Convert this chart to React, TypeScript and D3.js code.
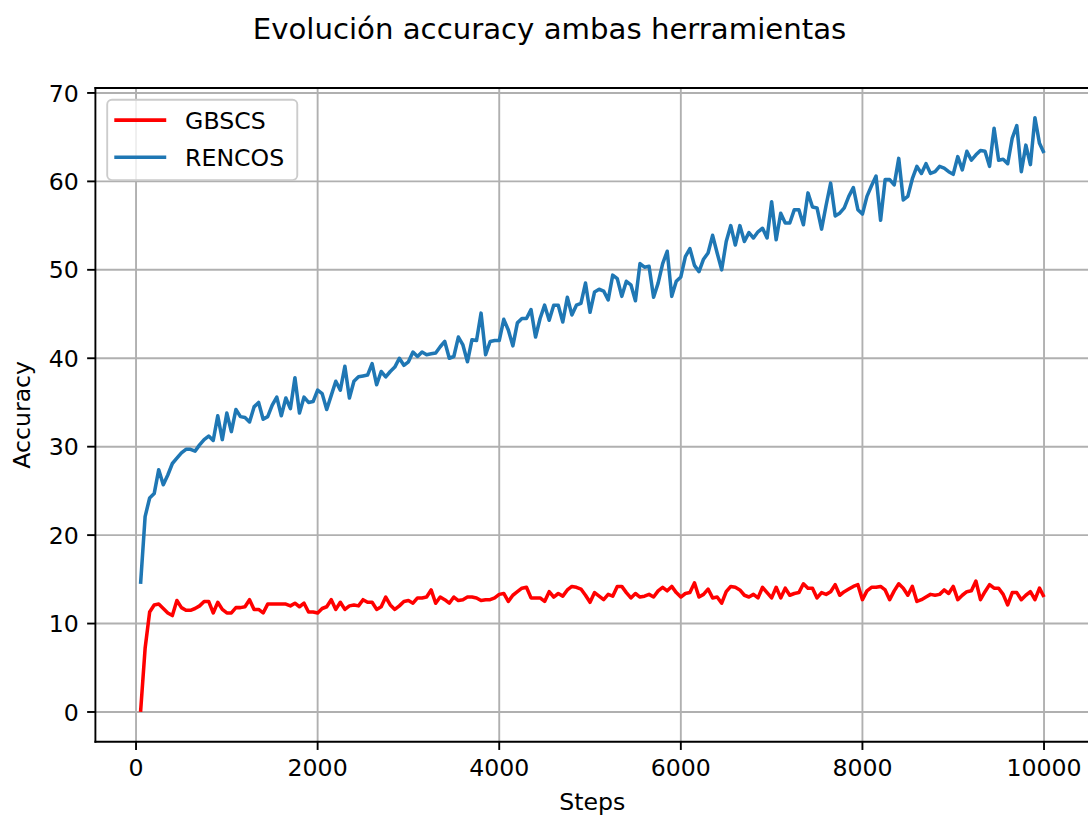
import React from "react";
import * as d3 from "d3";

// Training steps at which accuracy was logged
const steps: number[] = d3.range(50, 10050, 50);

const gbscs: number[] = [
  0, 7.2, 11.3, 12.1, 12.2, 11.7, 11.2, 10.9, 12.6, 11.8,
  11.5, 11.5, 11.7, 12.0, 12.5, 12.5, 11.2, 12.4, 11.6, 11.2,
  11.2, 11.8, 11.8, 11.9, 12.7, 11.6, 11.6, 11.2, 12.2, 12.2,
  12.2, 12.2, 12.2, 12.0, 12.3, 11.9, 12.3, 11.3, 11.3, 11.2,
  11.7, 11.9, 12.7, 11.6, 12.4, 11.6, 12.0, 12.1, 12.0, 12.7,
  12.4, 12.4, 11.6, 11.9, 13.0, 12.1, 11.6, 12.0, 12.5, 12.6,
  12.3, 12.9, 12.9, 13.0, 13.8, 12.3, 13.0, 12.7, 12.3, 13.0,
  12.6, 12.7, 13.0, 13.0, 12.9, 12.6, 12.7, 12.7, 12.9, 13.3,
  13.4, 12.5, 13.2, 13.6, 14.0, 14.1, 12.9, 12.9, 12.9, 12.5,
  13.6, 13.0, 13.4, 13.1, 13.8, 14.2, 14.1, 13.9, 13.2, 12.4,
  13.5, 13.1, 12.7, 13.3, 13.1, 14.2, 14.2, 13.5, 12.9, 13.4,
  13.0, 13.1, 13.3, 13.0, 13.7, 14.1, 13.7, 14.2, 13.5, 13.0,
  13.4, 13.5, 14.6, 13.0, 13.3, 13.9, 12.9, 13.0, 12.3, 13.6,
  14.2, 14.1, 13.8, 13.2, 13.0, 13.3, 12.9, 14.1, 13.5, 12.9,
  14.1, 12.9, 14.0, 13.2, 13.4, 13.5, 14.5, 14.0, 14.0, 12.9,
  13.5, 13.3, 13.6, 14.4, 13.2, 13.6, 13.9, 14.2, 14.4, 12.7,
  13.7, 14.1, 14.1, 14.2, 13.8, 12.7, 13.7, 14.5, 14.0, 13.2,
  14.2, 12.5, 12.7, 13.0, 13.3, 13.2, 13.3, 13.8, 13.4, 14.2,
  12.7, 13.2, 13.6, 13.7, 14.8, 12.7, 13.6, 14.4, 14.0, 14.0,
  13.3, 12.1, 13.5, 13.5, 12.7, 13.2, 13.6, 12.7, 14.0, 13.0,
];

const rencos: number[] = [
  14.5, 22.1, 24.2, 24.7, 27.4, 25.7, 26.8, 28.1, 28.7, 29.3,
  29.7, 29.7, 29.5, 30.2, 30.8, 31.2, 30.7, 33.5, 30.8, 33.8,
  31.7, 34.2, 33.4, 33.3, 32.8, 34.5, 35.0, 33.1, 33.4, 34.7,
  35.6, 33.5, 35.5, 34.3, 37.8, 33.8, 35.6, 35.0, 35.1, 36.4,
  36.0, 34.2, 35.8, 37.4, 36.4, 39.1, 35.5, 37.4, 37.9, 38.0,
  38.1, 39.4, 37.0, 38.5, 37.9, 38.5, 39.0, 40.0, 39.2, 39.6,
  40.7, 40.2, 40.7, 40.4, 40.5, 40.6, 41.3, 41.9, 40.0, 40.2,
  42.4, 41.5, 39.6, 42.1, 42.0, 45.1, 40.4, 41.9, 42.0, 42.0,
  44.4, 43.2, 41.4, 44.0, 44.5, 44.5, 45.5, 42.4, 44.5, 46.0,
  44.3, 46.0, 46.0, 44.1, 46.9, 44.9, 46.0, 46.2, 48.5, 45.2,
  47.5, 47.8, 47.6, 46.6, 49.4, 49.0, 47.0, 48.7, 48.3, 46.5,
  50.7, 50.3, 50.4, 46.9, 48.5, 50.7, 52.1, 47.0, 48.7, 49.2,
  51.5, 52.4, 50.5, 49.8, 51.2, 51.9, 53.9, 51.9, 50.0, 53.2,
  55.0, 52.8, 55.0, 53.2, 54.2, 53.6, 54.3, 54.7, 53.6, 57.7,
  53.4, 56.4, 55.3, 55.3, 56.8, 56.8, 55.1, 58.7, 57.1, 57.0,
  54.6, 57.3, 59.8, 56.1, 56.4, 57.0, 58.3, 59.3, 56.8, 56.3,
  58.3, 59.5, 60.6, 55.6, 60.2, 60.2, 59.6, 62.6, 57.9, 58.3,
  60.3, 61.7, 60.9, 62.0, 60.9, 61.1, 61.7, 61.5, 61.1, 60.8,
  62.8, 61.3, 63.4, 62.4, 63.0, 63.5, 63.4, 61.7, 66.0, 62.4,
  62.5, 62.0, 64.9, 66.3, 61.1, 64.1, 61.9, 67.2, 64.3, 63.2,
];

const seriesNames = ["GBSCS", "RENCOS"];
const seriesColors = ["#ff0000", "#1f77b4"];
const xTicks = [0, 2000, 4000, 6000, 8000, 10000];
const yTicks = [0, 10, 20, 30, 40, 50, 60, 70];
const title = "Evolución accuracy ambas herramientas";
const xLabel = "Steps";
const yLabel = "Accuracy";

const W = 1088;
const H = 817;
const S = 170 / 72; // points to pixels
const FONT = "'DejaVu Sans', sans-serif";
const fs = 10 * S;
const box = { left: 95.4, top: 88, right: 1089.2, bottom: 741.7 };

const padded = (lo: number, hi: number): [number, number] => {
  const m = (hi - lo) * 0.05;
  return [lo - m, hi + m];
};

export default function App() {
  const series = [gbscs, rencos];
  const allVals = series.flat();
  const x = d3
    .scaleLinear()
    .domain(padded(d3.min(steps)!, d3.max(steps)!))
    .range([box.left, box.right]);
  const y = d3
    .scaleLinear()
    .domain(padded(d3.min(allVals)!, d3.max(allVals)!))
    .range([box.bottom, box.top]);

  const line = d3
    .line<number>()
    .x((_, i) => x(steps[i]))
    .y((d) => y(d));

  const tickLen = 3.5 * S;
  const tickPad = 3.5 * S;
  const gridW = 0.8 * S;

  // legend geometry, in font-size units
  const lgX = box.left + 0.5 * fs;
  const lgY = box.top + 0.5 * fs;
  const lgW = 8.05 * fs;
  const lgH = 3.4 * fs;
  const handleX1 = lgX + 0.3 * fs;
  const handleX2 = lgX + 2.5 * fs;
  const textX = lgX + 3.3 * fs;

  return (
    <svg
      width={W}
      height={H}
      style={{ position: "absolute", left: 0, top: 0, background: "#fff" }}
      fontFamily={FONT}
    >
      <defs>
        <clipPath id="plot-area">
          <rect
            x={box.left}
            y={box.top}
            width={box.right - box.left}
            height={box.bottom - box.top}
          />
        </clipPath>
      </defs>
      <rect width={W} height={H} fill="#fff" />

      <text x={549.5} y={39} fontSize={29.2} textAnchor="middle" fill="#000">
        {title}
      </text>

      {/* grid */}
      <g stroke="#b0b0b0" strokeWidth={gridW} clipPath="url(#plot-area)">
        {xTicks.map((t) => (
          <line key={"gx" + t} x1={x(t)} x2={x(t)} y1={box.top} y2={box.bottom} />
        ))}
        {yTicks.map((t) => (
          <line key={"gy" + t} x1={box.left} x2={box.right} y1={y(t)} y2={y(t)} />
        ))}
      </g>

      {/* series */}
      <g clipPath="url(#plot-area)" fill="none" strokeWidth={1.5 * S} strokeLinejoin="round">
        {series.map((s, i) => (
          <path key={seriesNames[i]} d={line(s)!} stroke={seriesColors[i]} />
        ))}
      </g>

      {/* spines */}
      <g stroke="#000" strokeWidth={gridW} fill="none">
        <line x1={box.left} x2={box.left} y1={box.top} y2={box.bottom} strokeLinecap="square" />
        <line x1={box.left} x2={box.right} y1={box.bottom} y2={box.bottom} strokeLinecap="square" />
        <line x1={box.left} x2={box.right} y1={box.top} y2={box.top} strokeLinecap="square" />
        <line x1={box.right} x2={box.right} y1={box.top} y2={box.bottom} />
      </g>

      {/* x axis */}
      <g>
        {xTicks.map((t) => (
          <g key={"xt" + t}>
            <line
              x1={x(t)}
              x2={x(t)}
              y1={box.bottom}
              y2={box.bottom + tickLen}
              stroke="#000"
              strokeWidth={gridW}
            />
            <text
              x={x(t)}
              y={box.bottom + tickLen + tickPad + 0.76 * fs}
              fontSize={fs}
              textAnchor="middle"
              fill="#000"
            >
              {t}
            </text>
          </g>
        ))}
        <text
          x={(box.left + box.right) / 2}
          y={810}
          fontSize={fs}
          textAnchor="middle"
          fill="#000"
        >
          {xLabel}
        </text>
      </g>

      {/* y axis */}
      <g>
        {yTicks.map((t) => (
          <g key={"yt" + t}>
            <line
              x1={box.left - tickLen}
              x2={box.left}
              y1={y(t)}
              y2={y(t)}
              stroke="#000"
              strokeWidth={gridW}
            />
            <text
              x={box.left - tickLen - tickPad}
              y={y(t) + 0.365 * fs}
              fontSize={fs}
              textAnchor="end"
              fill="#000"
            >
              {t}
            </text>
          </g>
        ))}
        <text
          transform={`translate(30,${(box.top + box.bottom) / 2}) rotate(-90)`}
          fontSize={fs}
          textAnchor="middle"
          fill="#000"
        >
          {yLabel}
        </text>
      </g>

      {/* legend */}
      <g>
        <rect
          x={lgX}
          y={lgY}
          width={lgW}
          height={lgH}
          rx={0.2 * fs}
          fill="#fff"
          fillOpacity={0.8}
          stroke="#cccccc"
          strokeWidth={gridW}
        />
        {seriesNames.map((name, i) => {
          const cy = lgY + 0.86 * fs + i * 1.57 * fs;
          return (
            <g key={"lg" + name}>
              <line
                x1={handleX1}
                x2={handleX2}
                y1={cy}
                y2={cy}
                stroke={seriesColors[i]}
                strokeWidth={1.5 * S}
              />
              <text x={textX} y={cy + 0.365 * fs} fontSize={fs} fill="#000">
                {name}
              </text>
            </g>
          );
        })}
      </g>
    </svg>
  );
}
